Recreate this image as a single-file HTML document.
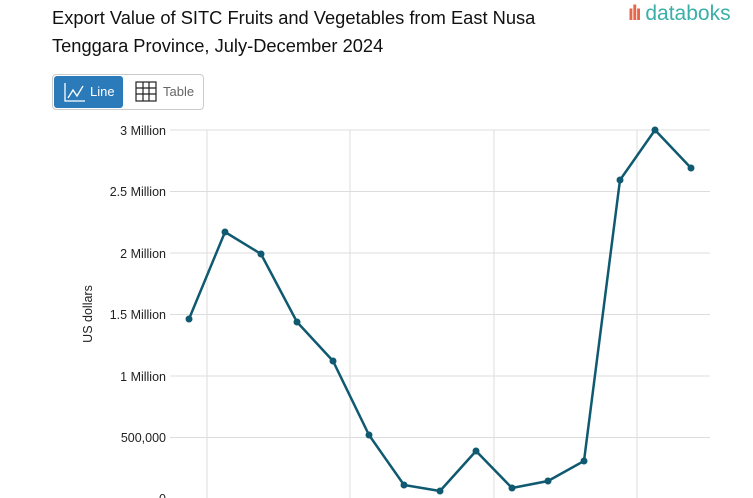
<!DOCTYPE html>
<html><head><meta charset="utf-8"><style>
body{margin:0;width:753px;height:498px;overflow:hidden;background:#fff;font-family:"Liberation Sans",sans-serif;}
.t{position:absolute;left:52px;top:4px;font-size:18.3px;line-height:28px;color:#111;}
.logo{position:absolute;left:628px;top:2px;font-size:21px;color:#3aafa9;}
.btns{position:absolute;left:52px;top:74px;width:150px;height:34px;border:1px solid #ccc;border-radius:4px;}
.b1{position:absolute;left:1px;top:1px;width:69px;height:32px;background:#2b7bba;border-radius:3px;color:#fff;font-size:13px;}
.b2{position:absolute;left:82px;top:9px;font-size:13px;color:#666;}
</style></head><body>
<div class="t">Export Value of SITC Fruits and Vegetables from East Nusa<br>Tenggara Province, July-December 2024</div>
<div class="logo"><span style="color:#e8674a;font-weight:bold;letter-spacing:-2px">ılı</span> databoks</div>
<div class="btns">
<div class="b1"><svg width="24" height="22" style="position:absolute;left:9px;top:5px"><path d="M2 2V20H22" stroke="#fff" fill="none" stroke-width="1.3"/><path d="M5 17L10 9L14 15L20 5" stroke="#fff" fill="none" stroke-width="1.3"/></svg><span style="position:absolute;left:36px;top:8px">Line</span></div>
<svg width="24" height="22" style="position:absolute;left:82px;top:6px"><rect x="1" y="1" width="20" height="19" fill="none" stroke="#222" stroke-width="1.2"/><path d="M8 1V20M14 1V20M1 7H21M1 13H21" stroke="#222" stroke-width="1.2"/></svg>
<span class="b2" style="left:110px">Table</span>
</div>
<svg width="753" height="498" style="position:absolute;left:0;top:0">
<g stroke="#ddd" stroke-width="1">
<line x1="170" x2="710" y1="130" y2="130"/><line x1="170" x2="710" y1="191.5" y2="191.5"/><line x1="170" x2="710" y1="253" y2="253"/><line x1="170" x2="710" y1="314.5" y2="314.5"/><line x1="170" x2="710" y1="376" y2="376"/><line x1="170" x2="710" y1="437.5" y2="437.5"/>
<line x1="207" x2="207" y1="130" y2="498"/><line x1="350" x2="350" y1="130" y2="498"/><line x1="494" x2="494" y1="130" y2="498"/><line x1="637" x2="637" y1="130" y2="498"/>
</g>
<g font-size="12.5" fill="#222" text-anchor="end" font-family="Liberation Sans,sans-serif">
<text x="166" y="135">3 Million</text><text x="166" y="196">2.5 Million</text><text x="166" y="258">2 Million</text><text x="166" y="319">1.5 Million</text><text x="166" y="381">1 Million</text><text x="166" y="442">500,000</text><text x="166" y="503">0</text>
</g>
<text transform="translate(92,314) rotate(-90)" font-size="12.5" fill="#222" text-anchor="middle" font-family="Liberation Sans,sans-serif">US dollars</text>
<polyline fill="none" stroke="#0f5a70" stroke-width="2.5" points="189,319 225,232 261,254 297,322 333,361 369,435 404,485 440,491 476,451 512,488 548,481 584,461 620,180 655,130 691,168"/>
<g fill="#0f5a70">
<circle cx="189" cy="319" r="3.5"/><circle cx="225" cy="232" r="3.5"/><circle cx="261" cy="254" r="3.5"/><circle cx="297" cy="322" r="3.5"/><circle cx="333" cy="361" r="3.5"/><circle cx="369" cy="435" r="3.5"/><circle cx="404" cy="485" r="3.5"/><circle cx="440" cy="491" r="3.5"/><circle cx="476" cy="451" r="3.5"/><circle cx="512" cy="488" r="3.5"/><circle cx="548" cy="481" r="3.5"/><circle cx="584" cy="461" r="3.5"/><circle cx="620" cy="180" r="3.5"/><circle cx="655" cy="130" r="3.5"/><circle cx="691" cy="168" r="3.5"/>
</g>
</svg>
</body></html>
